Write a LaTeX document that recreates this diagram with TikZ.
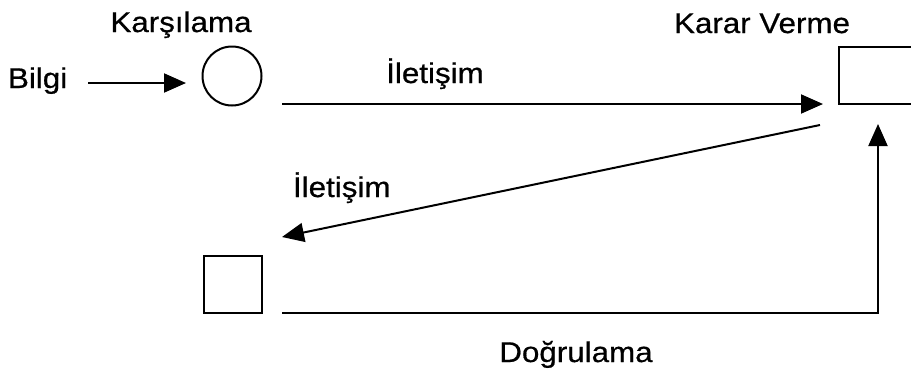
\documentclass[tikz,border=0pt]{standalone}
\usepackage{fontspec}
\setmainfont{Liberation Sans}[FakeStretch=1.1,FakeBold=0.6]
\usetikzlibrary{arrows.meta}
\begin{document}
\begin{tikzpicture}[x=1pt,y=-1pt,
  line width=2pt,
  lbl/.style={font=\fontsize{28.5}{32}\selectfont, inner sep=0pt, anchor=base},
  arr/.style={-{Triangle[length=22pt,width=19pt]}},
  boxnode/.style={draw, rectangle, inner sep=0pt}]
\useasboundingbox (0,0) rectangle (911,376);
% nodes
\node[draw, circle, minimum size=59pt, inner sep=0pt] (karsi) at (232,76) {};
\node[boxnode, minimum width=58pt, minimum height=57pt] (dog) at (232.5,284) {};
\node[boxnode, minimum width=80pt, minimum height=57pt] (karar) at (879,75.5) {};
% labels
\node[lbl] (tk) at (181,32) {Karşılama};
\node[lbl] (tkv) at (762,33) {Karar Verme};
\node[lbl, anchor=base west] (tb) at (7,88) {Bilgi};
\node[lbl] (ti1) at (435,83) {İletişim};
\node[lbl, anchor=base west] (ti2) at (292,197) {İletişim};
\node[lbl] (td) at (576,362) {Doğrulama};
% coordinates
\coordinate (b1) at (88,83);
\coordinate (b2) at (186,83);
\coordinate (t1) at (282,104);
\coordinate (t2) at (823,104);
\coordinate (d1) at (820,125);
\coordinate (d2) at (282,237);
\coordinate (r1) at (282,313);
\coordinate (r2) at (878,313);
\coordinate (r3) at (878,124);
% connectors
\draw[arr] (b1) -- (b2);
\draw[arr] (t1) -- (t2);
\draw[arr] (d1) -- (d2);
\draw[arr] (r1) -- (r2) -- (r3);
\end{tikzpicture}
\end{document}
